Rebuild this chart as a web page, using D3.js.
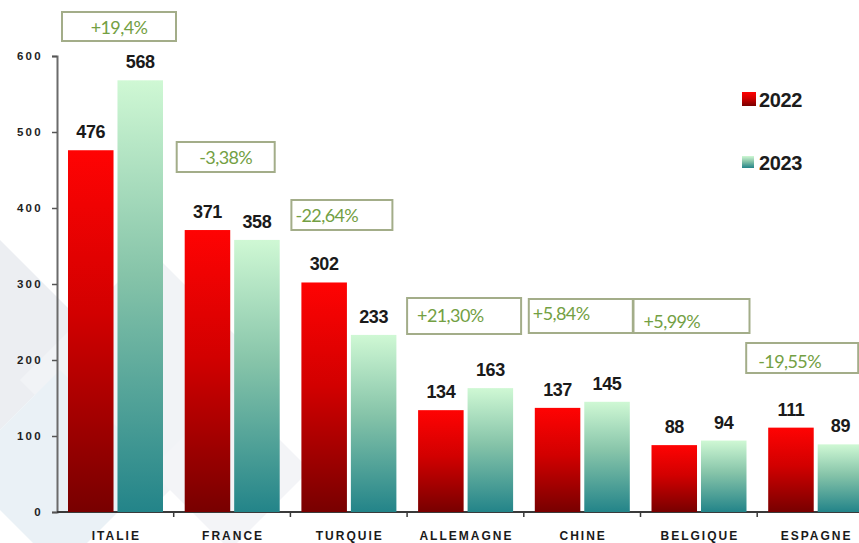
<!DOCTYPE html>
<html>
<head>
<meta charset="utf-8">
<script src="https://cdn.jsdelivr.net/npm/d3@7"></script>
<style>
    html, body { margin: 0; padding: 0; background: #ffffff; }
    #chart-area { width: 859px; height: 543px; overflow: hidden; }
</style>
</head>
<body>
<div id="chart-area"></div>
<script>
// chart data
const countries = ["ITALIE", "FRANCE", "TURQUIE", "ALLEMAGNE", "CHINE", "BELGIQUE", "ESPAGNE"];
const years = ["2022", "2023"];
const values2022 = [476, 371, 302, 134, 137, 88, 111];
const values2023 = [568, 358, 233, 163, 145, 94, 89];
const changes = ["+19,4%", "-3,38%", "-22,64%", "+21,30%", "+5,84%", "+5,99%", "-19,55%"];
const yTicks = [0, 100, 200, 300, 400, 500, 600];

// annotation boxes (pixel layout, not data): [dx from group start, top, width, height, text dx, text y]
const boxLayout = [
    [5, 12, 114, 29, 57, 28],
    [3, 142, 98, 30, 49, 158],
    [1, 200, 101, 30, 4, 216],
    [0, 298, 114, 36, 10, 316],
    [5, 299, 104, 34, 4, 314],
    [-7, 299, 116, 34, 10, 322],
    [-11, 343, 112, 30, 12, 362]
];

class ExportChart {

    constructor(parentElement) {
        this.parentElement = parentElement;
        this.displayData = countries.map((c, i) => ({
            country: c,
            values: [values2022[i], values2023[i]],
            change: changes[i],
            box: boxLayout[i]
        }));
        this.initVis();
    }

    initVis() {
        let vis = this;

        vis.width = 859;
        vis.height = 543;
        vis.plot = { left: 57, top: 56, bottom: 512, step: 116.7 };

        vis.svg = d3.select(`#${vis.parentElement}`).append("svg")
            .attr("width", vis.width)
            .attr("height", vis.height);

        const defs = vis.svg.append("defs");
        const redGrad = defs.append("linearGradient")
            .attr("id", "grad-red").attr("x1", 0).attr("y1", 0).attr("x2", 0).attr("y2", 1);
        redGrad.append("stop").attr("offset", "0%").attr("stop-color", "#ff0303");
        redGrad.append("stop").attr("offset", "45%").attr("stop-color", "#d20000");
        redGrad.append("stop").attr("offset", "100%").attr("stop-color", "#780000");

        const greenGrad = defs.append("linearGradient")
            .attr("id", "grad-green").attr("x1", 0).attr("y1", 0).attr("x2", 0).attr("y2", 1);
        greenGrad.append("stop").attr("offset", "0%").attr("stop-color", "#cff8d4");
        greenGrad.append("stop").attr("offset", "45%").attr("stop-color", "#86c4a9");
        greenGrad.append("stop").attr("offset", "100%").attr("stop-color", "#238489");

        // faint watermark diamonds behind the plot
        const bg = vis.svg.append("g").attr("class", "watermark");
        const diamonds = [
            [[0, 240], [95, 335], [0, 430]],
            [[20, 380], [150, 250], [280, 380], [150, 510]],
            [[-40, 470], [60, 370], [160, 470], [60, 570]],
            [[150, 470], [230, 390], [310, 470], [230, 550]]
        ];
        bg.selectAll("polygon")
            .data(diamonds)
            .enter().append("polygon")
            .attr("points", d => d.map(p => p.join(",")).join(" "))
            .attr("fill", (d, i) => ["#eceef2", "#f1f3f6", "#eaf1f6", "#f3f4f7"][i]);

        vis.x = d3.scaleBand()
            .domain(countries)
            .range([vis.plot.left, vis.plot.left + vis.plot.step * countries.length]);

        vis.xSub = d3.scaleBand()
            .domain(years)
            .range([11, 106])
            .paddingInner(0.08);

        vis.y = d3.scaleLinear()
            .domain([0, 600])
            .range([vis.plot.bottom, vis.plot.top]);

        // y axis
        vis.yAxis = d3.axisLeft(vis.y).tickValues(yTicks).tickSize(5).tickPadding(9);
        const yAxisG = vis.svg.append("g")
            .attr("class", "y-axis")
            .attr("transform", `translate(${vis.plot.left}, 0)`)
            .call(vis.yAxis);
        yAxisG.select(".domain").attr("stroke", "#6b6b6b").attr("stroke-width", 2);
        yAxisG.selectAll(".tick line").attr("stroke", "#555").attr("stroke-width", 1.5);
        yAxisG.selectAll(".tick text")
            .style("font-family", "'Liberation Sans', Arial, sans-serif")
            .style("font-weight", "bold")
            .style("font-size", "11.5px")
            .style("letter-spacing", "2.3px")
            .attr("fill", "#1f1f1f");

        // x axis: baseline with ticks at group boundaries
        vis.svg.append("line")
            .attr("x1", vis.plot.left).attr("x2", vis.width)
            .attr("y1", vis.plot.bottom).attr("y2", vis.plot.bottom)
            .attr("stroke", "#3a3a3a").attr("stroke-width", 2);

        vis.svg.selectAll(".x-tick")
            .data(countries.slice(1))
            .enter().append("line")
            .attr("class", "x-tick")
            .attr("x1", d => vis.x(d)).attr("x2", d => vis.x(d))
            .attr("y1", vis.plot.bottom).attr("y2", vis.plot.bottom + 5)
            .attr("stroke", "#3a3a3a").attr("stroke-width", 1.5);

        vis.svg.selectAll(".x-label")
            .data(countries)
            .enter().append("text")
            .attr("class", "x-label")
            .attr("x", d => vis.x(d) + vis.x.bandwidth() / 2 + 1)
            .attr("y", 540)
            .attr("text-anchor", "middle")
            .style("font-family", "'Liberation Sans', Arial, sans-serif")
            .style("font-weight", "bold")
            .style("font-size", "12px")
            .style("letter-spacing", "2px")
            .attr("fill", "#1a1a1a")
            .text(d => d);

        // legend
        const legend = vis.svg.append("g").attr("class", "legend");
        const legendItems = [
            { year: years[0], fill: "url(#grad-red)", y: 100, size: 14 },
            { year: years[1], fill: "url(#grad-green)", y: 163, size: 12 }
        ];
        legend.selectAll("rect")
            .data(legendItems)
            .enter().append("rect")
            .attr("x", 742)
            .attr("y", d => d.y - d.size / 2 - 1)
            .attr("width", d => d.size)
            .attr("height", d => d.size)
            .attr("fill", d => d.fill);
        legend.selectAll("text")
            .data(legendItems)
            .enter().append("text")
            .attr("x", 759)
            .attr("y", d => d.y + 7)
            .style("font-family", "'Liberation Sans', Arial, sans-serif")
            .style("font-weight", "bold")
            .style("font-size", "20px")
            .style("letter-spacing", "-0.4px")
            .attr("fill", "#1c1c1c")
            .text(d => d.year);

        vis.updateVis();
    }

    updateVis() {
        let vis = this;

        const groups = vis.svg.selectAll(".group")
            .data(vis.displayData)
            .enter().append("g")
            .attr("class", "group")
            .attr("transform", d => `translate(${vis.x(d.country)}, 0)`);

        // bars
        groups.selectAll(".bar")
            .data(d => d.values.map((v, i) => ({ year: years[i], value: v })))
            .enter().append("rect")
            .attr("class", "bar")
            .attr("x", d => vis.xSub(d.year))
            .attr("y", d => vis.y(d.value))
            .attr("width", vis.xSub.bandwidth())
            .attr("height", d => vis.y(0) - vis.y(d.value))
            .attr("fill", d => d.year === years[0] ? "url(#grad-red)" : "url(#grad-green)");

        // value labels
        groups.selectAll(".value-label")
            .data(d => d.values.map((v, i) => ({ year: years[i], value: v })))
            .enter().append("text")
            .attr("class", "value-label")
            .attr("x", d => vis.xSub(d.year) + vis.xSub.bandwidth() / 2)
            .attr("y", d => vis.y(d.value) - 12)
            .attr("text-anchor", "middle")
            .style("font-family", "'Liberation Sans', Arial, sans-serif")
            .style("font-weight", "bold")
            .style("font-size", "18px")
            .style("letter-spacing", "-0.4px")
            .attr("fill", "#1a1a1a")
            .text(d => d.value);

        // percent change boxes
        groups.append("rect")
            .attr("class", "change-box")
            .attr("x", d => d.box[0])
            .attr("y", d => d.box[1])
            .attr("width", d => d.box[2])
            .attr("height", d => d.box[3])
            .attr("fill", "none")
            .attr("stroke", "#a3ad89")
            .attr("stroke-width", 2);

        groups.append("text")
            .attr("class", "change-label")
            .attr("x", d => d.box[0] + d.box[4])
            .attr("y", d => d.box[5])
            .attr("dy", "0.35em")
            .attr("text-anchor", d => d.box[4] > 40 ? "middle" : "start")
            .style("font-family", "Lato, 'Open Sans', sans-serif")
            .style("font-size", "18px")
            .style("letter-spacing", "-0.6px")
            .attr("fill", "#73a043")
            .text(d => d.change);
    }
}

new ExportChart("chart-area");
</script>
</body>
</html>
